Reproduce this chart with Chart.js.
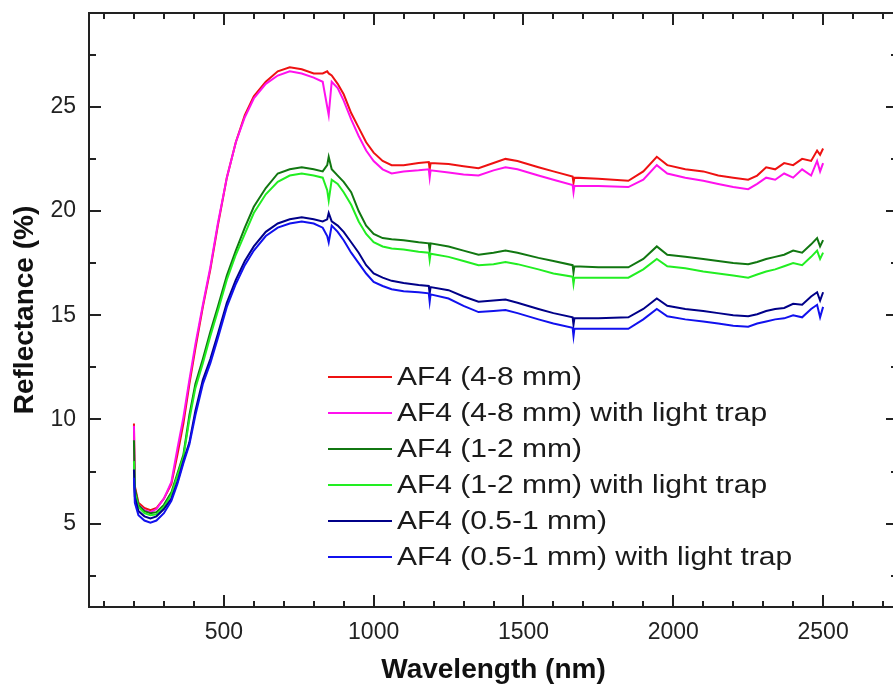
<!DOCTYPE html>
<html lang="en">
<head>
<meta charset="UTF-8">
<title>AF4 reflectance spectra</title>
<script src="https://cdn.jsdelivr.net/npm/chart.js"></script>
<style>
  html, body { margin: 0; padding: 0; background: #fff; overflow: hidden; }
  canvas { display: block; }
</style>
</head>
<body>
<canvas id="myChart" width="905" height="685"></canvas>
<script>
// wavelength (nm), shared by all six spectra
const wavelength = [200, 203, 215, 235, 255, 275, 300, 325, 345, 365, 385, 405, 430, 455, 480, 510, 540, 570, 600, 640,
  680, 720, 760, 800, 830, 845, 850, 860, 880, 900, 925, 950, 975, 1000, 1030, 1060, 1100, 1150, 1184, 1187, 1190,
  1250, 1300, 1350, 1400, 1440, 1480, 1550, 1600, 1664, 1667, 1670, 1750, 1850, 1900, 1945, 1980, 2040, 2100, 2150, 2200, 2250,
  2280, 2310, 2340, 2370, 2400, 2430, 2460, 2480, 2490, 2500];

// reflectance (%)
const af4_4_8 = [9.8, 6.8, 6.0, 5.75, 5.65, 5.75, 6.2, 6.9, 8.3, 9.8, 11.7, 13.4, 15.4, 17.2, 19.3, 21.6, 23.3, 24.6, 25.5, 26.2,
  26.7, 26.9, 26.8, 26.6, 26.6, 26.7, 26.6, 26.5, 26.1, 25.6, 24.7, 24.0, 23.3, 22.8, 22.4, 22.2, 22.2, 22.3, 22.35, 22.0, 22.3,
  22.25, 22.15, 22.05, 22.3, 22.5, 22.4, 22.1, 21.9, 21.65, 21.35, 21.6, 21.55, 21.45, 21.9, 22.6, 22.2, 22.0, 21.9, 21.7, 21.6, 21.5,
  21.7, 22.1, 22.0, 22.3, 22.2, 22.5, 22.4, 22.9, 22.7, 23.0];
const af4_4_8_trap = [9.7, 6.6, 5.9, 5.65, 5.55, 5.7, 6.2, 7.0, 8.6, 10.1, 11.9, 13.6, 15.5, 17.3, 19.4, 21.6, 23.3, 24.5, 25.4, 26.1,
  26.5, 26.7, 26.6, 26.4, 26.2, 25.0, 24.6, 26.2, 25.9, 25.3, 24.4, 23.6, 22.9, 22.4, 22.0, 21.8, 21.9, 21.95, 22.0, 21.6, 21.95,
  21.85, 21.75, 21.7, 21.95, 22.1, 22.0, 21.7, 21.5, 21.25, 20.9, 21.2, 21.2, 21.15, 21.5, 22.2, 21.8, 21.6, 21.45, 21.3, 21.15, 21.05,
  21.3, 21.6, 21.5, 21.8, 21.6, 22.0, 21.7, 22.4, 21.9, 22.3];
const af4_1_2 = [9.0, 6.7, 5.9, 5.6, 5.5, 5.55, 5.9, 6.5, 7.4, 8.3, 10.2, 11.7, 12.9, 14.2, 15.4, 16.9, 18.1, 19.2, 20.2, 21.1,
  21.8, 22.0, 22.1, 22.0, 21.9, 22.2, 22.6, 22.0, 21.7, 21.4, 20.9, 20.0, 19.3, 18.9, 18.7, 18.65, 18.6, 18.5, 18.45, 18.1, 18.45,
  18.3, 18.1, 17.9, 18.0, 18.1, 18.0, 17.75, 17.6, 17.4, 17.05, 17.35, 17.3, 17.3, 17.7, 18.3, 17.9, 17.8, 17.7, 17.6, 17.5, 17.45,
  17.55, 17.7, 17.8, 17.9, 18.1, 18.0, 18.4, 18.7, 18.3, 18.6];
const af4_1_2_trap = [8.0, 6.5, 5.8, 5.5, 5.4, 5.45, 5.8, 6.4, 7.3, 8.2, 10.0, 11.5, 12.7, 14.0, 15.2, 16.7, 17.9, 18.9, 19.9, 20.8,
  21.4, 21.7, 21.8, 21.7, 21.6, 21.0, 20.5, 21.5, 21.3, 20.9, 20.3, 19.5, 18.9, 18.5, 18.3, 18.2, 18.15, 18.05, 18.0, 17.65, 17.95,
  17.8, 17.6, 17.4, 17.45, 17.55, 17.45, 17.2, 17.0, 16.85, 16.5, 16.8, 16.8, 16.8, 17.2, 17.7, 17.35, 17.25, 17.1, 17.0, 16.9, 16.8,
  16.95, 17.1, 17.2, 17.35, 17.5, 17.4, 17.8, 18.1, 17.7, 18.0];
const af4_05_1 = [7.6, 6.3, 5.6, 5.35, 5.25, 5.35, 5.7, 6.2, 7.0, 8.0, 8.9, 10.4, 11.9, 12.9, 14.1, 15.6, 16.7, 17.6, 18.3, 19.0,
  19.4, 19.6, 19.7, 19.6, 19.5, 19.6, 19.9, 19.5, 19.3, 19.0, 18.5, 18.0, 17.4, 17.0, 16.8, 16.65, 16.55, 16.45, 16.4, 16.05, 16.35,
  16.2, 15.9, 15.65, 15.7, 15.75, 15.6, 15.3, 15.1, 14.9, 14.55, 14.85, 14.85, 14.9, 15.3, 15.8, 15.45, 15.3, 15.2, 15.1, 15.0, 14.95,
  15.05, 15.2, 15.3, 15.35, 15.55, 15.5, 15.9, 16.1, 15.7, 16.1];
const af4_05_1_trap = [7.2, 6.0, 5.4, 5.15, 5.05, 5.15, 5.5, 6.1, 6.9, 7.9, 8.8, 10.2, 11.7, 12.7, 13.9, 15.4, 16.5, 17.4, 18.1, 18.8,
  19.2, 19.4, 19.5, 19.4, 19.2, 18.8, 18.5, 19.3, 19.0, 18.6, 18.0, 17.5, 17.0, 16.6, 16.4, 16.25, 16.15, 16.1, 16.05, 15.65, 16.0,
  15.8, 15.45, 15.15, 15.2, 15.25, 15.1, 14.8, 14.6, 14.4, 14.0, 14.35, 14.35, 14.35, 14.8, 15.3, 14.95, 14.8, 14.7, 14.6, 14.5, 14.45,
  14.6, 14.7, 14.8, 14.85, 15.0, 14.9, 15.3, 15.5, 14.9, 15.4];

const seriesNames = ['AF4 (4-8 mm)', 'AF4 (4-8 mm) with light trap', 'AF4 (1-2 mm)',
  'AF4 (1-2 mm) with light trap', 'AF4 (0.5-1 mm)', 'AF4 (0.5-1 mm) with light trap'];
const seriesValues = [af4_4_8, af4_4_8_trap, af4_1_2, af4_1_2_trap, af4_05_1, af4_05_1_trap];
const seriesColors = ['#ee1111', '#ff11ee', '#117711', '#22ee22', '#000088', '#1111ee'];

const xTickValues = [500, 1000, 1500, 2000, 2500];
const yTickValues = [5, 10, 15, 20, 25];

const fontFamily = '"Liberation Sans", Arial, sans-serif';

// box around the plot with inward ticks on all four sides
const framePlugin = {
    id: 'frame',
    afterDraw(chart) {
        const { ctx, chartArea: a, scales: { x, y } } = chart;
        ctx.save();
        ctx.strokeStyle = '#222';
        ctx.lineWidth = 2;
        ctx.beginPath();
        for (let v = 100; v < 2750; v += 100) {
            const px = Math.round(x.getPixelForValue(v));
            const len = v % 500 === 0 ? 12 : 6;
            ctx.moveTo(px, a.bottom); ctx.lineTo(px, a.bottom - len);
            ctx.moveTo(px, a.top); ctx.lineTo(px, a.top + len);
        }
        for (let v = 2.5; v < 29.5; v += 2.5) {
            const py = Math.round(y.getPixelForValue(v));
            const len = v % 5 === 0 ? 12 : 7;
            ctx.moveTo(a.left, py); ctx.lineTo(a.left + len, py);
            ctx.moveTo(a.right, py); ctx.lineTo(a.right - len, py);
        }
        ctx.stroke();
        ctx.strokeRect(a.left, a.top, a.right - a.left, a.bottom - a.top);
        ctx.restore();
    }
};

// legend drawn inside the plot area
const insideLegend = {
    id: 'insideLegend',
    afterDatasetsDraw(chart) {
        const ctx = chart.ctx;
        ctx.save();
        ctx.font = '25px ' + fontFamily;
        ctx.textBaseline = 'middle';
        ctx.fillStyle = '#1a1a1a';
        chart.data.datasets.forEach((ds, i) => {
            const rowY = 377 + i * 36;
            ctx.strokeStyle = ds.borderColor;
            ctx.lineWidth = 2;
            ctx.beginPath();
            ctx.moveTo(328, rowY);
            ctx.lineTo(392, rowY);
            ctx.stroke();
            ctx.save();
            ctx.translate(397, rowY);
            ctx.scale(1.2, 1);
            ctx.fillText(ds.label, 0, 1);
            ctx.restore();
        });
        ctx.restore();
    }
};

const ctx = document.getElementById('myChart').getContext('2d');
const chart = new Chart(ctx, {
    type: 'line',
    data: {
        datasets: seriesNames.map((name, i) => ({
            label: name,
            data: wavelength.map((w, k) => ({ x: w, y: seriesValues[i][k] })),
            borderColor: seriesColors[i],
            backgroundColor: seriesColors[i],
            borderWidth: 2,
            pointRadius: 0,
            fill: false,
            tension: 0,
            order: seriesNames.length - 1 - i
        }))
    },
    options: {
        responsive: false,
        animation: false,
        devicePixelRatio: 1,
        layout: { padding: { top: 13, right: 7, left: 0, bottom: 0 } },
        plugins: { legend: { display: false }, tooltip: { enabled: false } },
        scales: {
            x: {
                type: 'linear',
                min: 50,
                max: 2750,
                afterBuildTicks: s => { s.ticks = xTickValues.map(v => ({ value: v })); },
                afterFit: s => { s.height = 78; s.paddingLeft = 0; s.paddingRight = 0; },
                grid: { display: false, drawTicks: false },
                border: { display: false },
                ticks: {
                    padding: 12, color: '#222', autoSkip: false, maxRotation: 0,
                    font: { family: fontFamily, size: 23 },
                    callback: v => String(v)
                },
                title: {
                    display: true,
                    text: 'Wavelength (nm)',
                    color: '#111',
                    font: { family: fontFamily, size: 28, weight: 'bold', lineHeight: 1 },
                    padding: { top: 0, bottom: 1 }
                }
            },
            y: {
                min: 1,
                max: 29.5,
                afterBuildTicks: s => { s.ticks = yTickValues.map(v => ({ value: v })); },
                afterFit: s => { s.width = 89; s.paddingTop = 0; s.paddingBottom = 0; },
                grid: { display: false, drawTicks: false },
                border: { display: false },
                ticks: {
                    padding: 13, color: '#222',
                    font: { family: fontFamily, size: 23 },
                    callback: v => String(v)
                },
                title: {
                    display: true,
                    text: 'Reflectance (%)',
                    color: '#111',
                    font: { family: fontFamily, size: 28, weight: 'bold', lineHeight: 1 },
                    padding: { top: 11, bottom: 0 }
                }
            }
        }
    },
    plugins: [framePlugin, insideLegend]
});
</script>
</body>
</html>
